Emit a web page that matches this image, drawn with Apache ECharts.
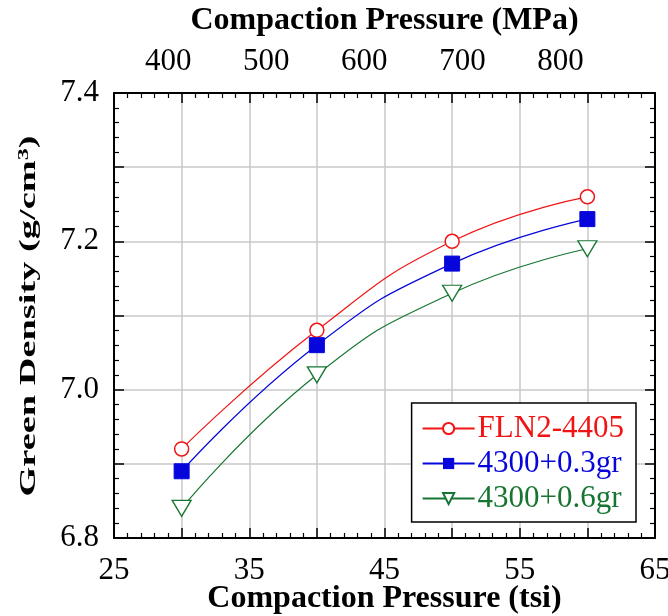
<!DOCTYPE html>
<html>
<head>
<meta charset="utf-8">
<title>Green Density vs Compaction Pressure</title>
<script src="https://cdn.jsdelivr.net/npm/echarts@6/dist/echarts.min.js"></script>
</head>
<body style="margin:0">
<div id="main" style="width:668px;height:616px"></div>
<script>
// data
var pressureTsi = [30, 40, 50, 60];
var fln2 = [6.92, 7.08, 7.20, 7.26];
var gr03 = [6.89, 7.06, 7.17, 7.23];
var gr06 = [6.84, 7.02, 7.13, 7.19];
var mpaLabels = [400, 500, 600, 700, 800];
var TSI_TO_MPA = 13.79;

var FONT = 'Liberation Serif';
var RED = '#f01414', BLUE = '#0606dc', GREEN = '#167530';

function pairs(ys) {
    return pressureTsi.map(function (x, i) { return [x, ys[i]]; });
}

var chart = echarts.init(document.getElementById('main'));

var axisLine = {lineStyle: {color: '#000', width: 2}};
var axisTick = {inside: true, length: 10, lineStyle: {color: '#000', width: 1.5}};
var minorTick = {show: true, splitNumber: 5, length: 5, lineStyle: {color: '#000', width: 1.2}};
var gridLine = {show: true, lineStyle: {color: '#c8c8c8', width: 1.5}};
var labelFont = {fontFamily: FONT, fontSize: 31, color: '#000'};
var titleFont = {fontFamily: FONT, fontSize: 32, fontWeight: 'bold', color: '#000'};

var option = {
    animation: false,
    grid: {left: 114, right: 13, top: 93, bottom: 78, outerBoundsMode: 'none'},
    xAxis: [
        {
            type: 'value', position: 'bottom', min: 25, max: 65, interval: 5,
            axisLine: axisLine, axisTick: axisTick, minorTick: minorTick, splitLine: gridLine,
            axisLabel: Object.assign({
                margin: 17,
                formatter: function (v) { return (v - 25) % 10 === 0 ? String(v) : ''; }
            }, labelFont),
            name: 'Compaction Pressure (tsi)', nameLocation: 'middle', nameGap: 45,
            nameMoveOverlap: false,
            nameTextStyle: titleFont
        },
        {
            type: 'value', position: 'top', min: 25, max: 65, interval: 5, offset: 0,
            axisLine: axisLine, axisTick: axisTick, minorTick: minorTick,
            splitLine: {show: false}, axisLabel: {show: false}
        },
        {
            type: 'value', position: 'top', offset: 0,
            min: 25 * TSI_TO_MPA, max: 65 * TSI_TO_MPA,
            axisLine: {show: false}, axisTick: {show: false}, splitLine: {show: false},
            axisLabel: Object.assign({margin: 16, customValues: mpaLabels}, labelFont),
            name: 'Compaction Pressure (MPa)', nameLocation: 'middle', nameGap: 56,
            nameMoveOverlap: false,
            nameTextStyle: titleFont
        }
    ],
    yAxis: [
        {
            type: 'value', position: 'left', min: 6.8, max: 7.4, interval: 0.1,
            axisLine: axisLine, axisTick: axisTick, minorTick: minorTick, splitLine: gridLine,
            axisLabel: Object.assign({
                margin: 15,
                formatter: function (v) { return Math.round(v * 10) % 2 === 0 ? v.toFixed(1) : ''; }
            }, labelFont)
        },
        {
            type: 'value', position: 'right', min: 6.8, max: 7.4, interval: 0.1,
            axisLine: axisLine, axisTick: axisTick, minorTick: minorTick,
            splitLine: {show: false}, axisLabel: {show: false}
        }
    ],
    // the y title in the figure is drawn stretched along its length
    graphic: [{
        type: 'text', x: 29, y: 316, rotation: Math.PI / 2, scaleX: 1.6, scaleY: 1,
        style: {
            text: 'Green Density (g/cm{sup|3})',
            font: 'bold 24px ' + FONT, fill: '#000',
            align: 'center', verticalAlign: 'middle',
            rich: {sup: {font: 'bold 15px ' + FONT, fill: '#000', verticalAlign: 'top', padding: [0, 0, 10, 0]}}
        }
    }],
    legend: {
        orient: 'vertical', right: 32, bottom: 94,
        backgroundColor: '#fff', borderColor: '#000', borderWidth: 1.5,
        padding: [10, 12, 8, 10], itemGap: 4,
        itemWidth: 52, itemHeight: 14,
        textStyle: {fontFamily: FONT, fontSize: 31, padding: [0, 0, 0, -2]},
        data: [
            {name: 'FLN2-4405', textStyle: {color: RED}},
            {name: '4300+0.3gr', textStyle: {color: BLUE}},
            {name: '4300+0.6gr', textStyle: {color: GREEN}}
        ]
    },
    series: [
        {
            name: 'FLN2-4405', type: 'line', smooth: true, data: pairs(fln2),
            symbol: 'circle', symbolSize: 14,
            lineStyle: {color: RED, width: 1.2},
            itemStyle: {color: '#fff', borderColor: RED, borderWidth: 1.5}
        },
        {
            name: '4300+0.3gr', type: 'line', smooth: true, data: pairs(gr03),
            symbol: 'rect', symbolSize: 15,
            lineStyle: {color: BLUE, width: 1.2},
            itemStyle: {color: BLUE, borderColor: BLUE}
        },
        {
            name: '4300+0.6gr', type: 'line', smooth: true, data: pairs(gr06),
            symbol: 'triangle', symbolSize: [19, 16], symbolRotate: 180,
            lineStyle: {color: GREEN, width: 1.2},
            itemStyle: {color: '#fff', borderColor: GREEN, borderWidth: 1.3}
        }
    ]
};

chart.setOption(option);
</script>
</body>
</html>
